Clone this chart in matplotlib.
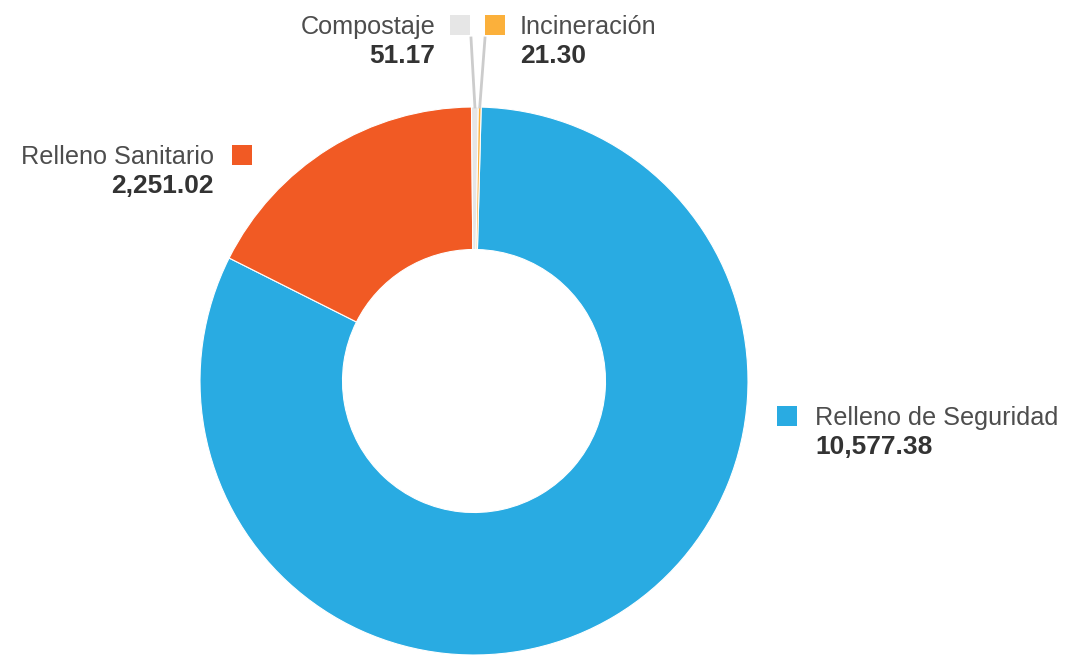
import numpy as np
import matplotlib
matplotlib.use("Agg")
import matplotlib.pyplot as plt

plt.rcParams['font.family'] = ['Liberation Sans', 'DejaVu Sans']

labels = ['Relleno de Seguridad', 'Relleno Sanitario', 'Compostaje', 'Incineración']
values = [10577.38, 2251.02, 51.17, 21.30]
colors = ['#29abe2', '#f15a24', '#e6e6e6', '#fbb03b']

W, H = 1072, 655
fig = plt.figure(figsize=(W / 100, H / 100), dpi=100)
ax = fig.add_axes([0, 0, 1, 1])
ax.axis('off')

cx, cy, R = 474, H - 381, 274
wedges, _ = ax.pie(values, colors=colors, startangle=88.5, counterclock=False,
                   center=(cx, cy), radius=R,
                   wedgeprops=dict(width=R - 131.5, edgecolor='white', linewidth=0.8))
ax.set_xlim(0, W)
ax.set_ylim(0, H)
ax.set_aspect('equal')

# label layout: (square x, square y, text anchor x, ha)
layout = [
    (787, H - 416, 815, 'left'),
    (242, H - 155, 214, 'right'),
    (460, H - 25, 435, 'right'),
    (495, H - 25, 520, 'left'),
]
for w, lab, val, col, (sx, sy, tx, ha) in zip(wedges, labels, values, colors, layout):
    ax.scatter([sx], [sy], marker='s', s=220, color=col, linewidths=0, zorder=3)
    ax.text(tx, sy - 2, lab, ha=ha, va='center', fontsize=18.2, color='#4d4d4d')
    ax.text(tx, sy - 31, f'{val:,.2f}', ha=ha, va='center', fontsize=19,
            fontweight='bold', color='#333333')

# leader lines for the small slices
for w, sx in zip(wedges[2:], [471, 485]):
    ang = np.deg2rad((w.theta1 + w.theta2) / 2)
    x0 = cx + R * np.cos(ang)
    y0 = cy + R * np.sin(ang)
    ax.plot([x0, sx], [y0, H - 38], color='#cccccc', lw=2, zorder=1)

fig.savefig('out.png', dpi=100)
